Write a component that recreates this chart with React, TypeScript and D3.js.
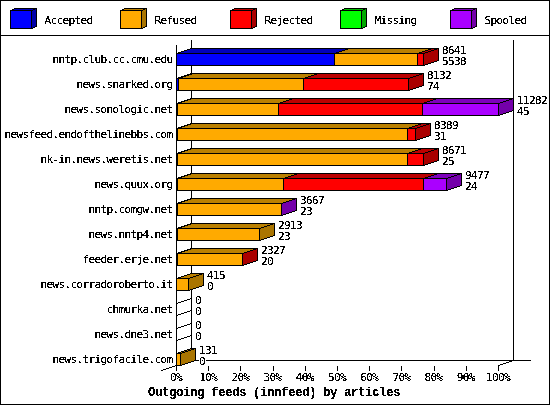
import * as d3 from 'd3'

const hosts = [
  'nntp.club.cc.cmu.edu', 'news.snarked.org', 'news.sonologic.net', 'newsfeed.endofthelinebbs.com',
  'nk-in.news.weretis.net', 'news.quux.org', 'nntp.comgw.net', 'news.nntp4.net',
  'feeder.erje.net', 'news.corradoroberto.it', 'chmurka.net', 'news.dne3.net', 'news.trigofacile.com',
]
const accepted = [5538, 74, 45, 31, 25, 24, 23, 23, 20, 0, 0, 0, 0]
const refused = [2889, 4386, 3540, 8072, 8078, 3714, 3641, 2890, 2302, 415, 0, 0, 131]
const rejected = [214, 3672, 5050, 286, 568, 4927, 0, 0, 5, 0, 0, 0, 0]
const missing = [0, 0, 0, 0, 0, 0, 0, 0, 0, 0, 0, 0, 0]
const spooled = [0, 0, 2647, 0, 0, 812, 3, 0, 0, 0, 0, 0, 0]
const totals = [8641, 8132, 11282, 8389, 8671, 9477, 3667, 2913, 2327, 415, 0, 0, 131]

const seriesNames = ['Accepted', 'Refused', 'Rejected', 'Missing', 'Spooled']
const seriesValues = [accepted, refused, rejected, missing, spooled]
const frontColors = ['#0000ff', '#ffaa00', '#ff0000', '#00ff00', '#aa00ff']
const topColors = ['#0000bb', '#bb8000', '#bb0000', '#00bb00', '#7d00bb']
const sideColors = ['#0000aa', '#aa7500', '#aa0000', '#00aa00', '#7400aa']

const WIDTH = 550
const HEIGHT = 405
const DX = 15
const DY = 5
const BAR_H = 12
const MONO = '"DejaVu Sans Mono", monospace'

const maxTotal = d3.max(totals) ?? 1
const x = d3.scaleLinear().domain([0, maxTotal]).range([176, 498])
const pct = d3.scaleLinear().domain([0, 100]).range([176, 498])
const y = d3.scaleBand<string>().domain(hosts).range([46, 371])
const legendX = d3.scalePoint<string>().domain(seriesNames).range([10, 450])

const snap = (v: number) => Math.round(v) + 0.5
const quad = (x0: number, y0: number, x1: number, y1: number) =>
  `M${x0},${y0}L${x1},${y1}L${x1 + DX},${y1 - DY}L${x0 + DX},${y0 - DY}Z`

function Bar({ row }: { row: number }) {
  const top = snap((y(hosts[row]) ?? 0) + 7)
  const bottom = top + BAR_H
  const x0 = snap(x(0))
  if (totals[row] === 0) {
    return (
      <g stroke="#000" fill="none">
        <line x1={x0} y1={top} x2={x0 + DX} y2={top - DY} />
        <line x1={x0} y1={bottom} x2={x0 + DX} y2={bottom - DY} />
      </g>
    )
  }
  let sum = 0
  return (
    <g stroke="#000">
      {seriesValues.map((values, i) => {
        if (values[row] === 0) return null
        const a = snap(x(sum))
        sum += values[row]
        const b = snap(x(sum))
        return (
          <g key={i}>
            <path d={quad(a, top, b, top)} fill={topColors[i]} />
            <path d={`M${b},${top}L${b + DX},${top - DY}L${b + DX},${bottom - DY}L${b},${bottom}Z`} fill={sideColors[i]} />
            <rect x={a} y={top} width={b - a} height={BAR_H} fill={frontColors[i]} />
          </g>
        )
      })}
    </g>
  )
}

export default function App() {
  const x0 = snap(pct(0))
  const x100 = snap(pct(100))
  const backY = 360.5
  const frontY = backY + DY

  return (
    <svg
      width={WIDTH}
      height={HEIGHT}
      viewBox={`0 0 ${WIDTH} ${HEIGHT}`}
      style={{ position: 'absolute', left: 0, top: 0, display: 'block' }}
      shapeRendering="crispEdges"
    >
      <defs>
        <filter id="hard" filterUnits="userSpaceOnUse" x="0" y="0" width={WIDTH} height={HEIGHT}>
          <feComponentTransfer>
            <feFuncA type="discrete" tableValues="0 0 0 1 1 1 1 1" />
          </feComponentTransfer>
        </filter>
      </defs>
      <rect x={0.5} y={0.5} width={WIDTH - 1} height={HEIGHT - 1} fill="#fff" stroke="#000" />
      <line x1={0} x2={WIDTH} y1={35.5} y2={35.5} stroke="#000" />

      {/* Legend */}
      {seriesNames.map((name, i) => {
        const lx = snap(legendX(name) ?? 0)
        return (
          <g key={name} stroke="#000">
            <path d={`M${lx},10.5L${lx + 5},8.5L${lx + 26},8.5L${lx + 21},10.5Z`} fill={topColors[i]} />
            <path d={`M${lx + 21},10.5L${lx + 26},8.5L${lx + 26},26.5L${lx + 21},28.5Z`} fill={sideColors[i]} />
            <rect x={lx} y={10.5} width={21} height={18} fill={frontColors[i]} />
          </g>
        )
      })}

      {/* Back walls and floor */}
      <g stroke="#000" fill="none">
        <line x1={x0} x2={x0} y1={45} y2={frontY + 5} />
        <line x1={x0 + DX} x2={x0 + DX} y1={40} y2={backY} />
        <line x1={x100 + DX} x2={x100 + DX} y1={40} y2={backY} />
        <line x1={x0 + DX} x2={531} y1={backY} y2={backY} />
        <line x1={x0 - DX} y1={frontY + DY} x2={x0 + DX} y2={backY} />
        <line x1={x100} y1={frontY} x2={x100 + DX} y2={backY} />
        {pct.ticks(10).map((t) => (
          <line key={t} x1={snap(pct(t))} x2={snap(pct(t))} y1={frontY} y2={frontY + 5} />
        ))}
      </g>

      {hosts.map((h, row) => (
        <Bar key={h} row={row} />
      ))}

      {/* White patches behind the value labels */}
      {hosts.map((h, row) => {
        const top = (y(h) ?? 0) + 7
        const lx = Math.round(x(totals[row])) + DX + 4
        return (
          <g key={h} fill="#fff">
            <rect x={lx} y={top - 8} width={String(totals[row]).length * 6 + 1} height={10} />
            <rect x={lx} y={top + 3} width={String(accepted[row]).length * 6 + 1} height={10} />
          </g>
        )
      })}

      <g
        filter="url(#hard)"
        fontFamily={MONO}
        fontSize={11}
        letterSpacing={-0.62}
        fill="#000"
        style={{ fontVariantLigatures: 'none' }}
      >
        {seriesNames.map((name) => (
          <text key={name} x={(legendX(name) ?? 0) + 34.5} y={24}>
            {name}
          </text>
        ))}
        {hosts.map((h, row) => {
          const top = (y(h) ?? 0) + 7
          const lx = Math.round(x(totals[row])) + DX + 4
          return (
            <g key={h}>
              <text x={172.5} y={top + 10} textAnchor="end">
                {h}
              </text>
              <text x={lx} y={top + 1}>
                {totals[row]}
              </text>
              <text x={lx} y={top + 12}>
                {accepted[row]}
              </text>
            </g>
          )
        })}
        {pct.ticks(10).map((t) => (
          <text key={t} x={pct(t)} y={381} textAnchor="middle">
            {t}%
          </text>
        ))}
        <text
          x={274}
          y={395.5}
          textAnchor="middle"
          fontFamily='"Liberation Mono", monospace'
          fontWeight={700}
          fontSize={12.5}
          letterSpacing={-0.5}
        >
          Outgoing feeds (innfeed) by articles
        </text>
      </g>
    </svg>
  )
}
